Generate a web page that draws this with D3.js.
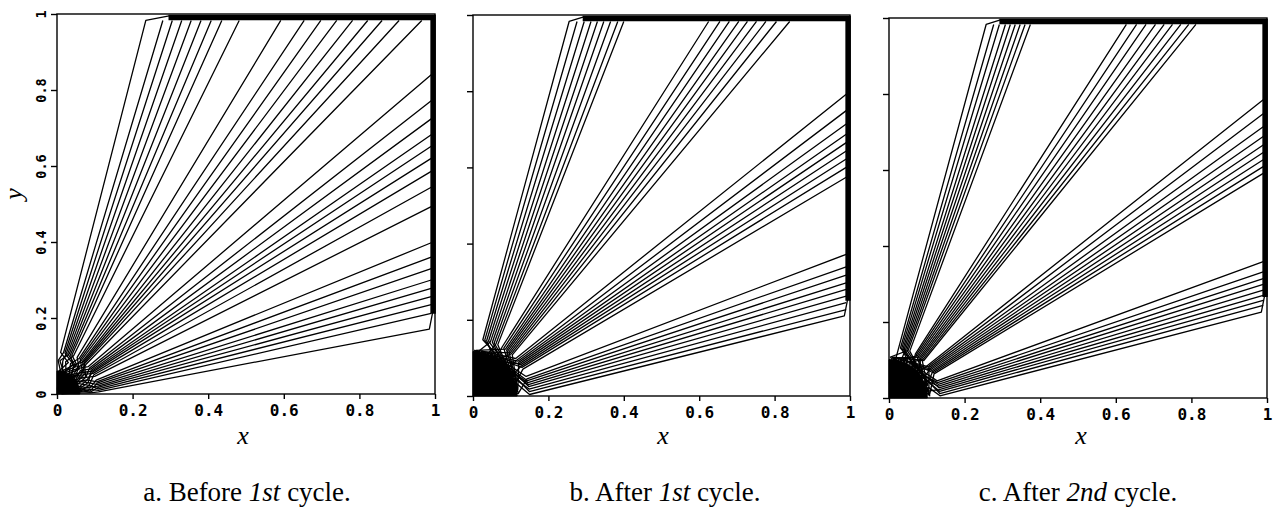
<!DOCTYPE html>
<html><head><meta charset="utf-8">
<script src="https://cdn.jsdelivr.net/npm/d3@7/dist/d3.min.js"></script>
<style>body{margin:0;background:#fff}svg{display:block}</style>
</head><body>
<svg id="chart" width="1273" height="520"></svg>
<script>
// ---------- data (unit square) ----------
const tickValues = [0, 0.2, 0.4, 0.6, 0.8, 1];
const tickLabels = ["0", "0.2", "0.4", "0.6", "0.8", "1"];
const captions = [["a. Before ", "1st", " cycle."], ["b. After ", "1st", " cycle."], ["c. After ", "2nd", " cycle."]];

// Each contour: where it meets the top edge (x) or right edge (y),
// the direction (deg) of its foot at the edge of the dense region near the origin,
// and the directions (deg) its tail zig-zags through inside that region.
// Panel a
const aTopX     = [0.235, 0.280, 0.305, 0.330, 0.355, 0.381, 0.408, 0.436, 0.482, 0.592, 0.654, 0.698, 0.740, 0.782, 0.822, 0.860, 0.905, 0.965];
const aTopFoot  = [85, 81, 79, 77, 75, 73, 71, 69, 66.5, 61, 58, 56, 54, 52, 50.5, 49, 47.5, 45.5];
const aRightY   = [0.840, 0.772, 0.724, 0.682, 0.652, 0.620, 0.586, 0.544, 0.493, 0.398, 0.360, 0.330, 0.300, 0.278, 0.256, 0.235, 0.212, 0.171];
const aRightFoot= [41, 38.5, 36.5, 34.5, 33, 31.5, 29.5, 27.5, 25, 19.5, 17, 15, 13, 11, 9, 7, 5, 3];
const aTailTop  = [70, 88, 60, 80, 55, 85, 62, 50, 75, 48, 66, 40, 58, 35, 60, 30, 52, 42];
const aTailRight= [50, 30, 45, 20, 40, 25, 36, 15, 30, 10, 25, 5, 20, 12, 3, 15, 8, 2];
// Panel b
const bTopX     = [0.255, 0.276, 0.295, 0.313, 0.330, 0.347, 0.365, 0.384, 0.400, 0.625, 0.655, 0.680, 0.705, 0.728, 0.752, 0.777, 0.805, 0.840];
const bTopFoot  = [80, 78, 76, 74, 72, 70, 68, 66, 64, 59, 57, 55, 53.5, 52, 50.5, 49, 47.5, 46];
const bRightY   = [0.792, 0.749, 0.714, 0.687, 0.665, 0.643, 0.622, 0.600, 0.574, 0.372, 0.339, 0.317, 0.297, 0.280, 0.262, 0.245, 0.227, 0.210];
const bRightFoot= [41, 39, 37.5, 36, 34.5, 33, 31.5, 30, 28, 20, 17.5, 15.5, 13.5, 11.5, 9.5, 7, 4.5, 1.5];
// Panel c
const cTopX     = [0.257, 0.277, 0.292, 0.308, 0.321, 0.334, 0.347, 0.360, 0.374, 0.628, 0.655, 0.680, 0.705, 0.728, 0.750, 0.772, 0.793, 0.812];
const cTopFoot  = [79, 77, 75.5, 74, 72.5, 71, 69.5, 68, 66, 59, 57.5, 56, 54.5, 53, 51.5, 50, 48.5, 47];
const cRightY   = [0.785, 0.748, 0.714, 0.688, 0.666, 0.646, 0.627, 0.609, 0.591, 0.359, 0.332, 0.314, 0.299, 0.284, 0.270, 0.257, 0.244, 0.226];
const cRightFoot= [40, 38.5, 37, 35.5, 34, 32.5, 31, 29.5, 28, 19.5, 17.5, 15.5, 13.5, 11.5, 9.5, 7.5, 5, 2.5];
// tail directions in the dense black region of panels b and c
const bcTailTop   = [40, 12, 65, 30, 82, 50, 20, 70, 5, 58, 35, 86, 25, 45, 10, 75, 55, 15];
const bcTailRight = [80, 38, 62, 8, 48, 72, 28, 88, 18, 52, 3, 68, 33, 78, 43, 22, 60, 85];
const bcTail2Top  = [10, 55, 25, 85, 45, 5, 75, 35, 60, 15, 80, 30, 65, 3, 50, 20, 88, 40];
const bcTail2Right= [20, 70, 42, 88, 12, 58, 85, 5, 66, 30, 78, 15, 52, 25, 82, 62, 36, 48];

const TOP_EDGE = 0.983, RIGHT_EDGE = 0.99;

// ---------- layout ----------
const panels = [
  {top: aTopX, topFoot: aTopFoot, right: aRightY, rightFoot: aRightFoot,
   tailTop: aTailTop, tailRight: aTailRight, tail2Top: aTopFoot, tail2Right: aRightFoot, footR: 0.11, fillK: 0.55,
   x0: 57, x1: 435, y0: 394, y1: 14, labels: true, cap: 0, capX: 247, xt: 243},
  {top: bTopX, topFoot: bTopFoot, right: bRightY, rightFoot: bRightFoot,
   tailTop: bcTailTop, tailRight: bcTailRight, tail2Top: bcTail2Top, tail2Right: bcTail2Right, footR: 0.15, fillK: 0.78,
   x0: 473, x1: 850, y0: 396, y1: 15, labels: false, cap: 1, capX: 665, xt: 663},
  {top: cTopX, topFoot: cTopFoot, right: cRightY, rightFoot: cRightFoot,
   tailTop: bcTailRight, tailRight: bcTailTop, tail2Top: bcTail2Right, tail2Right: bcTail2Top, footR: 0.135, fillK: 0.75,
   x0: 889, x1: 1267, y0: 398, y1: 18, labels: false, cap: 2, capX: 1078, xt: 1081}
];

const svg = d3.select("#chart");
const rad = Math.PI / 180;
const polar = (r, deg) => [r * Math.cos(deg * rad), r * Math.sin(deg * rad)];

panels.forEach(p => {
  const x = d3.scaleLinear().domain([0, 1]).range([p.x0, p.x1]);
  const y = d3.scaleLinear().domain([0, 1]).range([p.y0, p.y1]);
  const g = svg.append("g");
  const line = d3.line().x(d => x(d[0])).y(d => y(d[1]));
  const R = p.footR;

  // dense region near the origin, bounded by the contour feet
  const feet = p.topFoot.concat(p.rightFoot).slice().sort((u, v) => u - v);
  const blob = [[0, 0], polar(R * p.fillK, 0)].concat(feet.map(f => polar(R * p.fillK, f)), [polar(R * p.fillK, 90), [0, 0]]);
  g.append("path").attr("d", line(blob) + "Z").attr("fill", "#000").attr("stroke", "#000").attr("stroke-width", 1);

  const tail = (foot, t1, t2) => [
    polar(0.012, foot), polar(R * 0.3, t2), polar(R * 0.55, foot), polar(R * 0.8, t1), polar(R, foot)
  ];

  // contours
  const contours = [];
  p.top.forEach((xe, i) => {
    const pts = tail(p.topFoot[i], p.tailTop[i], p.tail2Top[i]);
    pts.push([xe, TOP_EDGE]);
    if (i === 0) pts.push([p.top[1] + 0.02, 0.996]);
    contours.push(pts);
  });
  p.right.forEach((ye, i) => {
    const last = i === p.right.length - 1;
    const pts = tail(p.rightFoot[i], p.tailRight[i], p.tail2Right[i]);
    pts.push([RIGHT_EDGE - (last ? 0.005 : 0), ye]);
    if (last) pts.push([0.995, ye + 0.05]);
    contours.push(pts);
  });
  g.append("g").selectAll("path").data(contours).join("path")
    .attr("d", line).attr("fill", "none").attr("stroke", "#000")
    .attr("stroke-width", 1.3).attr("stroke-linejoin", "round");

  // boundary band where the contours pile up
  const band = [[p.top[1] + 0.015, 0.991], [0.995, 0.991], [0.995, p.right[p.right.length - 1] + 0.04]];
  g.append("path").attr("d", line(band)).attr("fill", "none")
    .attr("stroke", "#000").attr("stroke-width", 5.5).attr("stroke-linejoin", "miter");

  // frame
  g.append("rect").attr("x", x(0)).attr("y", y(1)).attr("width", x(1) - x(0)).attr("height", y(0) - y(1))
    .attr("fill", "none").attr("stroke", "#000").attr("stroke-width", 1.4);

  // axes
  const ax = g.append("g").attr("transform", `translate(0,${p.y0})`)
    .call(d3.axisBottom(x).tickValues(tickValues).tickFormat((d, i) => tickLabels[i]).tickSize(5).tickPadding(5));
  ax.select(".domain").remove();
  ax.selectAll("line").attr("stroke-width", 1.4);
  ax.selectAll("text").attr("font-family", "DejaVu Sans Mono").attr("font-weight", "bold")
    .attr("font-size", 16).attr("fill", "#000").attr("dy", "0.78em");

  const ay = g.append("g").attr("transform", `translate(${p.x0},0)`)
    .call(d3.axisLeft(y).tickValues(tickValues).tickFormat((d, i) => p.labels ? tickLabels[i] : "").tickSize(6));
  ay.select(".domain").remove();
  ay.selectAll("line").attr("stroke-width", 1.4);
  ay.selectAll("text").attr("font-family", "DejaVu Sans Mono").attr("font-weight", "bold")
    .attr("font-size", 13.5).attr("fill", "#000")
    .attr("transform", "rotate(-90)").attr("x", 0).attr("y", -11).attr("dy", 0).attr("text-anchor", "middle");

  // axis titles
  g.append("text").attr("x", p.xt).attr("y", 444)
    .attr("font-family", "Liberation Serif").attr("font-style", "italic").attr("font-size", 26)
    .attr("text-anchor", "middle").text("x");
  if (p.labels) {
    g.append("text").attr("transform", "translate(22,194) rotate(-90)")
      .attr("font-family", "Liberation Serif").attr("font-style", "italic").attr("font-size", 26)
      .attr("text-anchor", "middle").text("y");
  }

  // caption
  const c = captions[p.cap];
  const t = g.append("text").attr("x", p.capX).attr("y", 501).attr("text-anchor", "middle")
    .attr("font-family", "Liberation Serif").attr("font-size", 27);
  t.append("tspan").text(c[0]);
  t.append("tspan").attr("font-style", "italic").text(c[1]);
  t.append("tspan").text(c[2]);
});
</script>
</body></html>
